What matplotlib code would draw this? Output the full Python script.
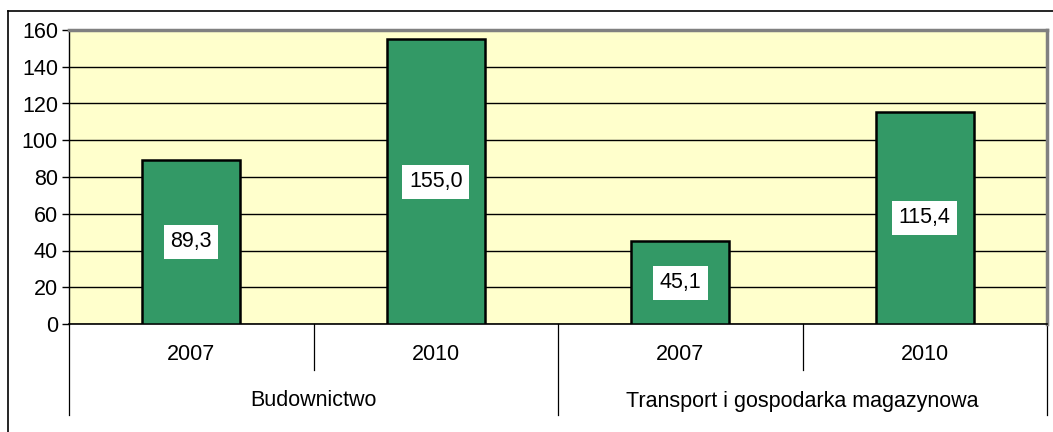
import matplotlib
matplotlib.use("Agg")
import matplotlib.pyplot as plt
from matplotlib.lines import Line2D

plt.rcParams['font.family'] = ['Liberation Sans', 'DejaVu Sans']

groups = ["Budownictwo", "Transport i gospodarka magazynowa"]
years = ["2007", "2010", "2007", "2010"]
values = [89.3, 155.0, 45.1, 115.4]
value_labels = ["89,3", "155,0", "45,1", "115,4"]
yticks = [0, 20, 40, 60, 80, 100, 120, 140, 160]

FS = 15.5
W, H = 1053, 432
fig = plt.figure(figsize=(W / 100, H / 100), dpi=100)
ax = fig.add_axes([69 / W, 1 - 324 / H, (1047 - 69) / W, (324 - 30) / H])
ax.set_facecolor('#FFFFCC')

x = list(range(len(values)))
ax.bar(x, values, width=0.4, color='#339966', edgecolor='black', linewidth=1.8, zorder=3)
ax.set_xlim(-0.5, len(values) - 0.5)
ax.set_ylim(0, 160)
ax.set_yticks(yticks)
ax.set_yticklabels([str(v) for v in yticks], fontsize=FS)
ax.tick_params(axis='y', length=5, width=1, pad=3)
ax.set_xticks([])
ax.yaxis.grid(True, color='black', linewidth=1)
ax.set_axisbelow(True)
for s in ['top', 'right']:
    ax.spines[s].set_color('#808080')
    ax.spines[s].set_linewidth(2.5)
ax.spines['left'].set_color('black')
ax.spines['bottom'].set_color('black')
ax.spines['left'].set_linewidth(1)
ax.spines['bottom'].set_linewidth(1.2)

for xi, v, lab in zip(x, values, value_labels):
    ax.text(xi, v / 2, lab, ha='center', va='center', fontsize=FS, zorder=4,
            bbox=dict(boxstyle='square,pad=0.3', facecolor='white', edgecolor='none'))

tr = ax.get_xaxis_transform()
hpx = 324 - 30
for i, yl in enumerate(years):
    ax.text(i, -(355 - 324) / hpx, yl, transform=tr, ha='center', va='center', fontsize=FS)
# separators between years
for b in [0.5, 2.5]:
    ax.add_line(Line2D([b, b], [0, -(370 - 324) / hpx], transform=tr, color='black',
                       linewidth=0.9, clip_on=False))
for b in [-0.5, 1.5, 3.5]:
    ax.add_line(Line2D([b, b], [0, -(415 - 324) / hpx], transform=tr, color='black',
                       linewidth=0.9, clip_on=False))
for gi, g in enumerate(groups):
    ax.text(gi * 2 + 0.5, -(401 - 324) / hpx, g, transform=tr, ha='center', va='center',
            fontsize=FS)

# outer chart border (left and top visible)
fig.add_artist(Line2D([8 / W, 8 / W], [0, 1 - 11 / H], transform=fig.transFigure,
                      color='black', linewidth=1.2))
fig.add_artist(Line2D([8 / W, 1], [1 - 11 / H, 1 - 11 / H], transform=fig.transFigure,
                      color='black', linewidth=1.2))

fig.savefig('out.png', dpi=100)
